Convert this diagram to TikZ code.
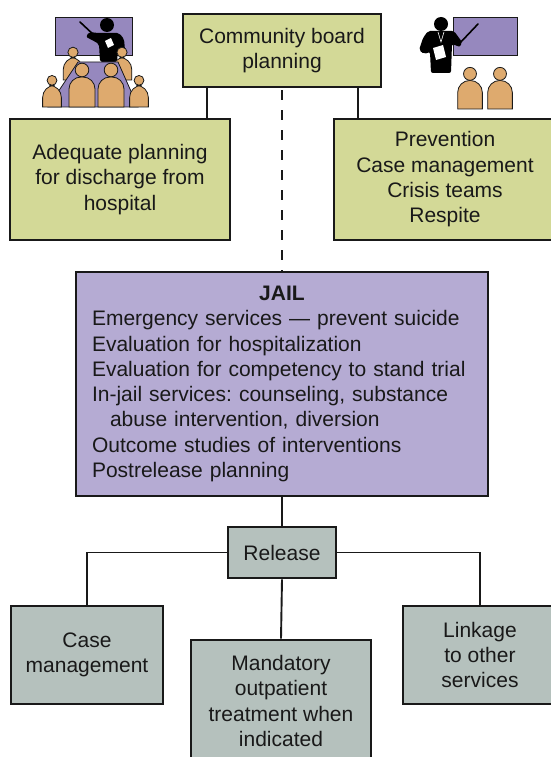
\documentclass[tikz,border=0pt]{standalone}
\usepackage{fontspec}
\setmainfont{Liberation Sans}
\usetikzlibrary{positioning}
\frenchspacing

\definecolor{edge}{RGB}{25,25,25}
\definecolor{planfill}{RGB}{211,217,151}
\definecolor{jailfill}{RGB}{181,171,211}
\definecolor{relfill}{RGB}{181,193,189}
\definecolor{screen}{RGB}{150,136,190}
\definecolor{skin}{RGB}{222,170,110}

\tikzset{
  pics/person/.style={code={
    \draw[edge, line width=0.8pt, fill=skin] (-13,0) [rounded corners=12pt] -- (-13,-30) -- (13,-30) [sharp corners] -- (13,0) -- cycle;
    \draw[edge, line width=0.8pt, fill=skin] (0,-37) circle[radius=6.8];
  }},
}

\begin{document}
\begin{tikzpicture}[
  x=1pt, y=-1pt,
  every node/.style={font=\fontsize{21}{25.3}\selectfont, text=edge},
  box/.style={draw=edge, line width=2.6pt, align=center, inner sep=0pt},
  plan/.style={box, fill=planfill},
  rel/.style={box, fill=relfill},
  wire/.style={draw=edge, line width=1.9pt},
]
  \useasboundingbox (0,0) rectangle (551,757);

  % meeting icon
  \draw[edge, line width=0.7pt, fill=screen] (55,17) rectangle (132,55);
  \draw[black, line width=1.6pt, line cap=round] (80,22) -- (96,37);
  \fill[black] (98,33) [rounded corners=2pt] -- (119,33) -- (124,39) -- (125,50) -- (118,50)
    -- (117,62) -- (100,62) -- (99,44) -- (92,40) -- (86,37) -- (89,32) -- cycle;
  \fill[black] (107,25) circle[radius=7];
  \fill[white] (105,41) -- (111,38) -- (114,45) -- (108,48) -- cycle;
  \foreach \px in {73,122}
    \pic[scale=0.75] at (\px,80) {person};
  \draw[edge, line width=0.8pt, fill=screen] (78,62) -- (118,62) -- (138,107) -- (48,107) -- cycle;
  \foreach \px in {52,139}
    \pic[scale=0.72] at (\px,107) {person};
  \foreach \px in {82,111}
    \pic at (\px,107) {person};

  % lecture icon
  \draw[edge, line width=0.7pt, fill=screen] (453,17) rectangle (517,55);
  \draw[black, line width=1.6pt, line cap=round] (459,44) -- (478,24);
  \fill[black] (428,31) [rounded corners=2pt] -- (454,31) -- (462,42) -- (460,47) -- (452,44)
    -- (451,73) -- (431,73) -- (430,52) -- (424,54) -- (419,50) -- (423,38) -- cycle;
  \fill[black] (441,24) circle[radius=7];
  \draw[white, line width=0.6pt] (438,32) -- (441,42) -- (444,32);
  \fill[white] (433,48) -- (443,45) -- (446,57) -- (436,60) -- cycle;
  \foreach \px in {470,500}
    \pic[scale=0.95] at (\px,109) {person};

  % boxes
  \node[plan, minimum width=198pt, minimum height=73pt] (comm) at (282,50.5) {Community board\\planning};
  \node[plan, minimum width=220pt, minimum height=121pt] (disch) at (120,179.5) {Adequate planning\\for discharge from\\hospital};
  \node[plan, minimum width=222pt, minimum height=121pt] (prev) at (445,179.5) {Prevention\\Case management\\Crisis teams\\Respite};
  \node[box, fill=jailfill, minimum width=412pt, minimum height=224pt, text width=380pt, align=left] (jail) at (282,384) {%
    \makebox[\linewidth]{\textbf{JAIL}}\\
    Emergency services — prevent suicide\\
    Evaluation for hospitalization\\
    Evaluation for competency to stand trial\\
    In-jail services: counseling, substance\\
    \hspace*{18pt}abuse intervention, diversion\\
    Outcome studies of interventions\\
    Postrelease planning};
  \node[rel, minimum width=108pt, minimum height=51pt] (release) at (282,552.5) {Release};
  \node[rel, minimum width=152pt, minimum height=98pt] (casem) at (87,655) {Case\\management};
  \node[rel, minimum width=180pt, minimum height=122pt] (mand) at (281,701) {Mandatory\\outpatient\\treatment when\\indicated};
  \node[rel, minimum width=154pt, minimum height=98pt] (linkage) at (480,655) {Linkage\\to other\\services};

  % connectors
  \draw[wire] ([xshift=-75pt]comm.south) -- ([xshift=-75pt]comm.south |- disch.north);
  \draw[wire] ([xshift=76pt]comm.south) -- ([xshift=76pt]comm.south |- prev.north);
  \draw[wire, dash pattern=on 10pt off 10pt, dash phase=-2pt] (comm.south) -- (jail.north);
  \draw[wire] (jail.south) -- (release.north);
  \draw[wire] (release.west) -| (casem.north);
  \draw[wire] (release.east) -| (linkage.north);
  \draw[wire] (release.south) -- (mand.north);
\end{tikzpicture}
\end{document}
